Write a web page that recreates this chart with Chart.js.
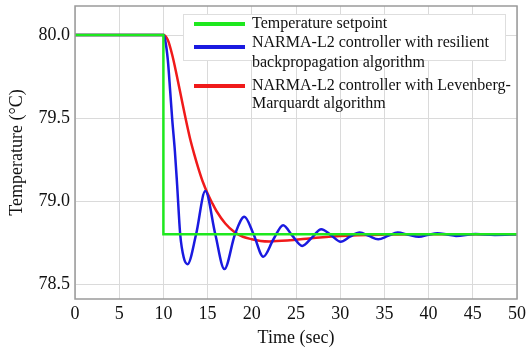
<!DOCTYPE html>
<html lang="en">
<head>
  <meta charset="UTF-8">
  <title>Temperature response</title>
  <script src="https://cdn.jsdelivr.net/npm/chart.js"></script>
  <style>
    body { margin: 0; background: #fff; }
    #wrap { width: 526px; height: 349px; }
  </style>
</head>
<body>
  <div id="wrap"><canvas id="tempChart" width="526" height="349"></canvas></div>

  <script>
    // setpoint step
    const setTime = [0, 10, 10, 50];
    const setTemp = [80, 80, 78.8, 78.8];

    // resilient backpropagation (blue)
    const rpTime = [0, 10, 10.2, 10.5, 10.77, 11.0, 11.3, 11.55, 11.9, 12.3, 12.73, 13.7, 14.74, 15.87, 16.9, 18.1, 19.16, 20.2, 21.3, 22.45, 23.55, 24.6, 25.7, 26.8, 27.86, 28.95, 30.05, 31.1, 32.2, 33.25, 34.3, 35.4, 36.5, 37.7, 38.9, 40.0, 41.0, 42.1, 43.1, 45.3, 47.5, 50];
    const rpTemp = [80, 80, 79.97, 79.85, 79.66, 79.49, 79.3, 79.1, 78.8, 78.66, 78.62, 78.8, 79.06, 78.8, 78.59, 78.8, 78.905, 78.8, 78.665, 78.77, 78.855, 78.79, 78.73, 78.78, 78.83, 78.795, 78.755, 78.785, 78.81, 78.79, 78.77, 78.79, 78.81, 78.797, 78.785, 78.797, 78.806, 78.798, 78.79, 78.801, 78.796, 78.8];

    // Levenberg-Marquardt (red)
    const lmTime = [0, 10, 10.5, 11.0, 11.5, 12.0, 12.5, 13.0, 13.5, 14.0, 14.5, 15.0, 15.5, 16.0, 17.0, 18.0, 19.0, 20.0, 21.0, 22.0, 24.0, 27.0, 30.0, 35.0, 40.0, 50];
    const lmTemp = [80, 80, 79.97, 79.88, 79.76, 79.63, 79.5, 79.38, 79.28, 79.19, 79.11, 79.045, 78.99, 78.94, 78.865, 78.815, 78.785, 78.77, 78.76, 78.757, 78.762, 78.777, 78.79, 78.798, 78.8, 78.8];

    const xTicks = [0, 5, 10, 15, 20, 25, 30, 35, 40, 45, 50];
    const yTicks = [78.5, 79.0, 79.5, 80.0];

    const legendText = [
      ['Temperature setpoint'],
      ['NARMA-L2 controller with resilient', 'backpropagation algorithm'],
      ['NARMA-L2 controller with Levenberg-', 'Marquardt algorithm']
    ];

    const pts = (t, v) => t.map((x, i) => ({ x: x, y: v[i] }));
    const serif = 'Liberation Serif, Times New Roman, serif';

    const framePlugin = {
      id: 'frame',
      afterDatasetsDraw(chart) {
        const a = chart.chartArea, c = chart.ctx;
        c.save();
        c.strokeStyle = '#9a9a9a';
        c.lineWidth = 1.5;
        c.strokeRect(a.left, a.top, a.right - a.left, a.bottom - a.top);
        c.restore();
      }
    };

    const legendPlugin = {
      id: 'boxLegend',
      afterDraw(chart) {
        const c = chart.ctx;
        c.save();
        c.fillStyle = '#fff';
        c.strokeStyle = '#dedede';
        c.lineWidth = 1;
        c.fillRect(183, 14, 322, 46);
        c.strokeRect(183.5, 14.5, 322, 46);
        const rows = [[24, [24]], [47, [43, 63]], [86, [86, 104]]];
        c.font = '16px ' + serif;
        c.textBaseline = 'middle';
        chart.data.datasets.forEach((ds, i) => {
          c.strokeStyle = ds.borderColor;
          c.lineWidth = 4;
          c.beginPath();
          c.moveTo(194, rows[i][0]);
          c.lineTo(245, rows[i][0]);
          c.stroke();
          c.fillStyle = '#111';
          legendText[i].forEach((s, j) => c.fillText(s, 252, rows[i][1][j]));
        });
        c.restore();
      }
    };

    new Chart(document.getElementById('tempChart'), {
      type: 'line',
      data: {
        datasets: [
          { label: legendText[0].join(' '), data: pts(setTime, setTemp), borderColor: '#1ee81e', borderWidth: 2.5, pointRadius: 0, tension: 0 },
          { label: legendText[1].join(' '), data: pts(rpTime, rpTemp), borderColor: '#1a1ae0', borderWidth: 2.5, pointRadius: 0, cubicInterpolationMode: 'monotone' },
          { label: legendText[2].join(' '), data: pts(lmTime, lmTemp), borderColor: '#f01a1a', borderWidth: 2.5, pointRadius: 0, cubicInterpolationMode: 'monotone' }
        ]
      },
      options: {
        responsive: false,
        animation: false,
        layout: { padding: { top: 6, right: 9, left: 0, bottom: 0 } },
        plugins: { legend: { display: false }, tooltip: { enabled: false } },
        scales: {
          x: {
            type: 'linear', min: 0, max: 50,
            afterBuildTicks: s => { s.ticks = xTicks.map(v => ({ value: v })); },
            afterFit: s => { s.height = 50; s.paddingLeft = 0; s.paddingRight = 0; },
            grid: { color: '#dadada', drawTicks: false },
            border: { display: false },
            ticks: { padding: 4, color: '#111', font: { family: serif, size: 18 }, maxRotation: 0 },
            title: { display: true, text: 'Time (sec)', color: '#111', font: { family: serif, size: 18 }, padding: 0 }
          },
          y: {
            min: 78.41, max: 80.175,
            afterBuildTicks: s => { s.ticks = yTicks.map(v => ({ value: v })); },
            afterFit: s => { s.width = 75; s.paddingTop = 0; s.paddingBottom = 0; },
            grid: { color: '#dadada', drawTicks: false },
            border: { display: false },
            ticks: { padding: 5, color: '#111', font: { family: serif, size: 18 }, callback: v => v.toFixed(1) },
            title: { display: true, text: 'Temperature (°C)', color: '#111', font: { family: serif, size: 18 }, padding: { top: 6, bottom: 0 } }
          }
        }
      },
      plugins: [framePlugin, legendPlugin]
    });
  </script>
</body>
</html>
